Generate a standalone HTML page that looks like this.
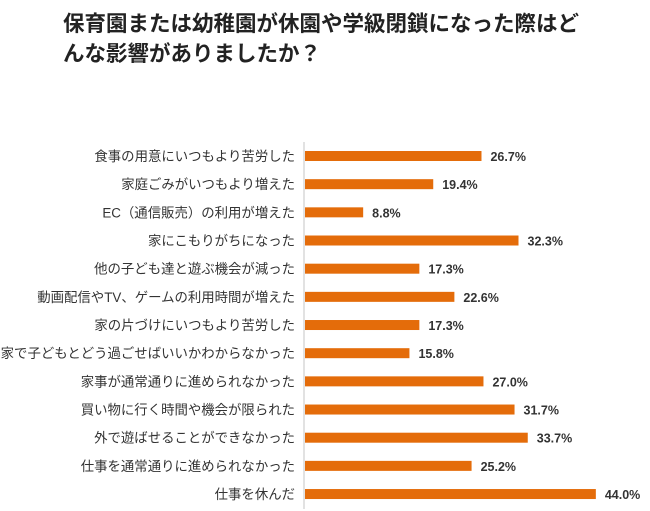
<!DOCTYPE html>
<html><head><meta charset="utf-8"><style>
body{margin:0;background:#fff;width:650px;height:511px;overflow:hidden;font-family:"Liberation Sans","Noto Sans CJK JP",sans-serif;}
.title{position:absolute;left:63px;top:8px;font-size:21.5px;font-weight:bold;line-height:30px;color:#222;font-family:"Noto Sans CJK JP",sans-serif;white-space:nowrap;}
</style></head><body>
<div class="title">保育園または幼稚園が休園や学級閉鎖になった際はど<br>んな影響がありましたか？</div>
<svg id="chart" width="650" height="511" style="position:absolute;left:0;top:0"></svg>
<script>
const categories=["食事の用意にいつもより苦労した","家庭ごみがいつもより増えた","EC（通信販売）の利用が増えた","家にこもりがちになった","他の子ども達と遊ぶ機会が減った","動画配信やTV、ゲームの利用時間が増えた","家の片づけにいつもより苦労した","家で子どもとどう過ごせばいいかわからなかった","家事が通常通りに進められなかった","買い物に行く時間や機会が限られた","外で遊ばせることができなかった","仕事を通常通りに進められなかった","仕事を休んだ"];
const values=[26.7,19.4,8.8,32.3,17.3,22.6,17.3,15.8,27.0,31.7,33.7,25.2,44.0];
const x0=305,scale=6.61,y0=156,step=28.17,bh=10;
const xs=v=>x0+v*scale, ys=i=>y0+i*step;
const svg=document.getElementById('chart');
const NS='http://www.w3.org/2000/svg';
const ax=document.createElementNS(NS,'line');


ax.setAttribute('x1',304);ax.setAttribute('x2',304);ax.setAttribute('y1',142);ax.setAttribute('y2',509);
ax.setAttribute('stroke','#d9d9d9');ax.setAttribute('stroke-width','1.5');svg.appendChild(ax);
categories.forEach((c,i)=>{
 const y=ys(i);
 const r=document.createElementNS(NS,'rect');
 
 
 r.setAttribute('x',x0);r.setAttribute('y',y-bh/2);r.setAttribute('width',xs(values[i])-x0);r.setAttribute('height',bh);
 r.setAttribute('fill','#e46c0a');svg.appendChild(r);
 const t=document.createElementNS(NS,'text');
 
 
 t.setAttribute('x',295);t.setAttribute('y',y+5);t.setAttribute('text-anchor','end');
 t.setAttribute('font-size','13.4');t.setAttribute('fill','#333');
 t.setAttribute('font-family','"Liberation Sans","Noto Sans CJK JP",sans-serif');
 t.textContent=c;svg.appendChild(t);
 const v=document.createElementNS(NS,'text');
 
 
 v.setAttribute('x',xs(values[i])+9);v.setAttribute('y',y+5);
 v.setAttribute('font-size','12.5');v.setAttribute('font-weight','bold');v.setAttribute('fill','#333');
 v.setAttribute('font-family','"Liberation Sans",sans-serif');
 v.textContent=values[i].toFixed(1)+'%';svg.appendChild(v);
});
</script>
</body></html>
